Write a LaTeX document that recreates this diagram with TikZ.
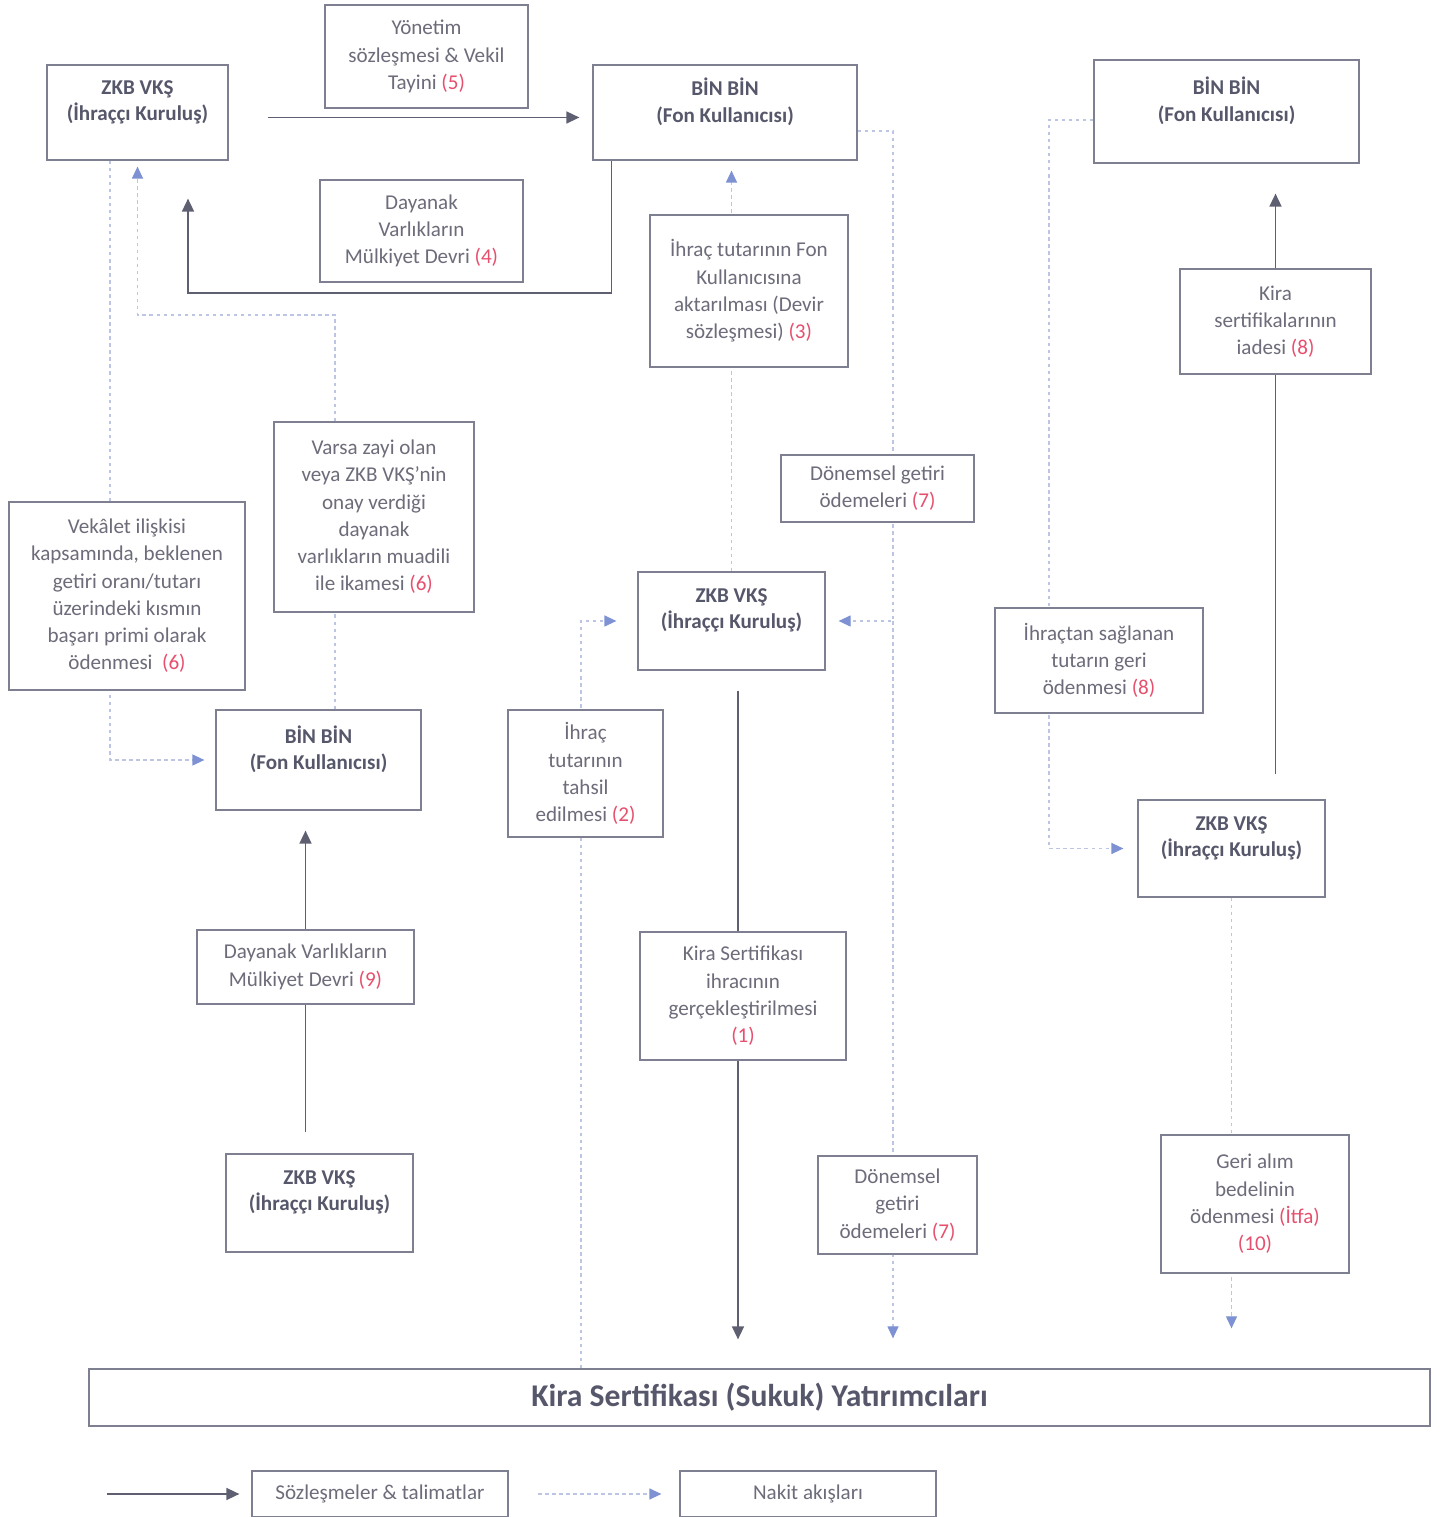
\documentclass[tikz,border=0pt]{standalone}
\usepackage{fontspec}
\setmainfont{Carlito}
\usetikzlibrary{arrows.meta,backgrounds}

\definecolor{boxgray}{HTML}{7E8092}
\definecolor{txtgray}{HTML}{6C6C7A}
\definecolor{ttlgray}{HTML}{56576A}
\definecolor{numred}{HTML}{E6506E}
\definecolor{flowgray}{HTML}{5E6072}
\definecolor{cashblue}{HTML}{7D91D3}
\definecolor{cashline}{HTML}{BCC6E4}

\newcommand{\stepno}[1]{\textcolor{numred}{(#1)}}

\begin{document}
\begin{tikzpicture}[
    box/.style={draw=boxgray, line width=0.7pt, fill=white, align=center, text=txtgray,
      font=\fontsize{12}{15.5}\selectfont, inner sep=2pt},
    party/.style={box, text=ttlgray, font=\bfseries\fontsize{12}{15}\selectfont},
    contract/.style={draw=flowgray, line width=0.9pt, -{Triangle[length=0.26cm,width=0.24cm]}},
    cash/.style={draw=cashline, line width=0.7pt, dash pattern=on 2pt off 2pt,
      -{Triangle[length=0.24cm,width=0.22cm,color=cashblue]}}
  ]
  \useasboundingbox (0,0) rectangle (28.96,30.34);

  % Parties
  \node[party, minimum width=3.62cm, minimum height=1.90cm] (zkb1) at (2.75,28.09) {ZKB VKŞ\\(İhraççı Kuruluş)\\[-0.2cm]\strut};
  \node[party, minimum width=5.28cm, minimum height=1.90cm] (bin1) at (14.50,28.09) {BİN BİN\\(Fon Kullanıcısı)\\[-0.2cm]\strut};
  \node[party, minimum width=5.30cm, minimum height=2.06cm] (bin2) at (24.53,28.11) {BİN BİN\\(Fon Kullanıcısı)\\[-0.2cm]\strut};
  \node[party, minimum width=3.74cm, minimum height=1.96cm] (zkb2) at (14.63,17.92) {ZKB VKŞ\\(İhraççı Kuruluş)\\[-0.2cm]\strut};
  \node[party, minimum width=4.10cm, minimum height=2.00cm] (bin3) at (6.37,15.14) {BİN BİN\\(Fon Kullanıcısı)\\[-0.2cm]\strut};
  \node[party, minimum width=3.74cm, minimum height=1.94cm] (zkb3) at (24.63,13.37) {ZKB VKŞ\\(İhraççı Kuruluş)\\[-0.2cm]\strut};
  \node[party, minimum width=3.74cm, minimum height=1.96cm] (zkb4) at (6.39,6.28) {ZKB VKŞ\\(İhraççı Kuruluş)\\[-0.2cm]\strut};
  \node[party, minimum width=26.82cm, minimum height=1.14cm, font=\bfseries\fontsize{18}{20}\selectfont] (inv) at (15.19,2.39) {Kira Sertifikası (Sukuk) Yatırımcıları};

  % Steps
  \node[box, minimum width=4.06cm, minimum height=2.06cm] (s5) at (8.53,29.21) {Yönetim\\sözleşmesi \& Vekil\\Tayini \stepno{5}};
  \node[box, minimum width=4.06cm, minimum height=2.04cm] (s4) at (8.43,25.72) {Dayanak\\Varlıkların\\Mülkiyet Devri \stepno{4}};
  \node[box, minimum width=3.96cm, minimum height=3.04cm] (s3) at (14.98,24.52) {İhraç tutarının Fon\\Kullanıcısına\\aktarılması (Devir\\sözleşmesi) \stepno{3}};
  \node[box, minimum width=3.82cm, minimum height=2.10cm] (s8a) at (25.51,23.91) {Kira\\sertifikalarının\\iadesi \stepno{8}};
  \node[box, minimum width=4.00cm, minimum height=3.80cm] (s6b) at (7.48,20.00) {Varsa zayi olan\\veya ZKB VKŞ’nin\\onay verdiği\\dayanak\\varlıkların muadili\\ile ikamesi \stepno{6}};
  \node[box, minimum width=3.86cm, minimum height=1.34cm] (s7a) at (17.55,20.57) {Dönemsel getiri\\ödemeleri \stepno{7}};
  \node[box, minimum width=4.72cm, minimum height=3.76cm] (s6a) at (2.54,18.42) {Vekâlet ilişkisi\\kapsamında, beklenen\\getiri oranı/tutarı\\üzerindeki kısmın\\başarı primi olarak\\ödenmesi \ \stepno{6}};
  \node[box, minimum width=4.16cm, minimum height=2.10cm] (s8b) at (21.98,17.13) {İhraçtan sağlanan\\tutarın geri\\ödenmesi \stepno{8}};
  \node[box, minimum width=3.10cm, minimum height=2.54cm] (s2) at (11.71,14.87) {İhraç\\tutarının\\tahsil\\edilmesi \stepno{2}};
  \node[box, minimum width=4.34cm, minimum height=1.48cm] (s9) at (6.11,11.00) {Dayanak Varlıkların\\Mülkiyet Devri \stepno{9}};
  \node[box, minimum width=4.12cm, minimum height=2.56cm] (s1) at (14.86,10.42) {Kira Sertifikası\\ihracının\\gerçekleştirilmesi\\\stepno{1}};
  \node[box, minimum width=3.18cm, minimum height=1.96cm] (s7b) at (17.95,6.24) {Dönemsel\\getiri\\ödemeleri \stepno{7}};
  \node[box, minimum width=3.76cm, minimum height=2.76cm] (s10) at (25.10,6.26) {Geri alım\\bedelinin\\ödenmesi \textcolor{numred}{(İtfa)}\\\stepno{10}};

  % Legend
  \node[box, minimum width=5.12cm, minimum height=0.92cm] (legc) at (7.60,0.46) {Sözleşmeler \& talimatlar};
  \node[box, minimum width=5.12cm, minimum height=0.92cm] (legn) at (16.16,0.46) {Nakit akışları};
  \coordinate (la) at (2.14,0.46);
  \coordinate (lb) at (10.76,0.46);

  % Bends
  \coordinate (c4) at (3.76,24.48);
  \coordinate (c7) at (17.86,17.92);
  \coordinate (c2) at (11.62,17.92);
  \coordinate (c6a) at (2.20,15.14);
  \coordinate (c6b) at (6.70,24.04);
  \coordinate (c8) at (20.98,13.37);

  \begin{scope}[on background layer]
    % - contracts
    \draw[contract, shorten <=0.78cm, shorten >=0.26cm] ([yshift=-0.1cm]zkb1.east) -- ([yshift=-0.1cm]bin1.west);
    \draw[contract, shorten >=0.76cm] ([xshift=0.38cm]bin1.south west) |- (c4) -- (c4 |- zkb1.south);
    \draw[contract, shorten <=0.40cm, shorten >=0.58cm] ([xshift=0.13cm]zkb2.south) -- ([xshift=0.13cm]zkb2.south |- inv.north);
    \draw[contract, shorten <=0.50cm, shorten >=0.60cm] (s8a |- zkb3.north) -- (s8a |- bin2.south);
    \draw[contract, shorten <=0.42cm, shorten >=0.40cm] (s9 |- zkb4.north) -- (s9 |- bin3.south);
    % - cash flows
    \draw[cash, shorten >=0.20cm] (zkb2.north) -- (zkb2.north |- bin1.south);
    \draw[cash, shorten >=0.26cm] ([yshift=-0.37cm]bin1.east) -| (c7) -- (zkb2.east);
    \draw[cash, shorten >=0.60cm] (c7) -- (c7 |- inv.north);
    \draw[cash, shorten >=0.42cm] (c2 |- inv.north) -- (c2) -- (zkb2.west);
    \draw[cash, shorten >=0.80cm] (zkb3.south) -- (zkb3.south |- inv.north);
    \draw[cash, shorten >=0.28cm] ([yshift=-0.17cm]bin2.west) -| (c8) -- (zkb3.west);
    \draw[cash, shorten >=0.22cm] (c6a |- zkb1.south) -- (c6a) -- (bin3.west);
    \draw[cash, shorten >=0.12cm] (c6b |- bin3.north) -- (c6b) -| (zkb1.south);
    % - legend
    \draw[contract, shorten >=0.24cm] (la) -- (legc.west);
    \draw[cash, shorten >=0.36cm] (lb) -- (legn.west);
  \end{scope}
\end{tikzpicture}
\end{document}
